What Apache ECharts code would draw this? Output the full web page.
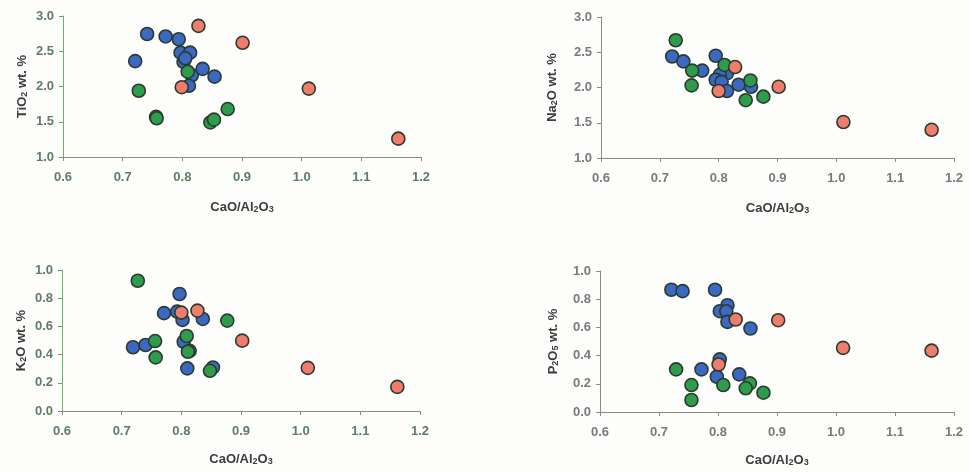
<!DOCTYPE html>
<html>
<head>
<meta charset="utf-8">
<script src="https://cdn.jsdelivr.net/npm/echarts@6/dist/echarts.min.js"></script>
<style>
  html, body { margin: 0; padding: 0; background: #fdfdfc; }
  #chart { width: 969px; height: 472px; }
</style>
</head>
<body>
<div id="chart"></div>
<script>
// x = CaO/Al2O3, y = oxide wt. %
const tio2Blue = [[0.741, 2.745], [0.772, 2.71], [0.794, 2.67], [0.721, 2.36], [0.797, 2.48], [0.813, 2.48],
  [0.802, 2.35], [0.805, 2.40], [0.816, 2.16], [0.834, 2.25], [0.854, 2.14], [0.811, 2.01]];
const tio2Green = [[0.727, 1.94], [0.756, 1.57], [0.757, 1.55], [0.809, 2.21], [0.847, 1.49], [0.853, 1.53], [0.876, 1.68]];
const tio2Red = [[0.827, 2.86], [0.901, 2.62], [0.799, 1.99], [1.012, 1.97], [1.162, 1.26]];

const na2oBlue = [[0.721, 2.44], [0.740, 2.37], [0.772, 2.24], [0.795, 2.45], [0.814, 2.20], [0.802, 2.18],
  [0.795, 2.11], [0.805, 2.08], [0.814, 1.95], [0.834, 2.04], [0.855, 2.01]];
const na2oGreen = [[0.727, 2.67], [0.755, 2.24], [0.754, 2.03], [0.810, 2.32], [0.854, 2.10], [0.846, 1.82], [0.876, 1.87]];
const na2oRed = [[0.828, 2.29], [0.800, 1.95], [0.902, 2.01], [1.012, 1.51], [1.162, 1.40]];

const k2oBlue = [[0.797, 0.83], [0.771, 0.694], [0.793, 0.705], [0.802, 0.646], [0.836, 0.653], [0.719, 0.452],
  [0.740, 0.468], [0.804, 0.491], [0.814, 0.427], [0.810, 0.302], [0.853, 0.309]];
const k2oGreen = [[0.727, 0.924], [0.877, 0.641], [0.756, 0.496], [0.757, 0.380], [0.809, 0.532], [0.848, 0.285], [0.811, 0.42]];
const k2oRed = [[0.800, 0.698], [0.827, 0.712], [0.902, 0.499], [1.012, 0.306], [1.162, 0.171]];

const p2o5Blue = [[0.721, 0.867], [0.740, 0.857], [0.795, 0.867], [0.816, 0.757], [0.803, 0.715], [0.814, 0.715],
  [0.816, 0.639], [0.855, 0.592], [0.803, 0.373], [0.772, 0.302], [0.798, 0.250], [0.836, 0.267]];
const p2o5Green = [[0.729, 0.302], [0.755, 0.191], [0.809, 0.191], [0.854, 0.203], [0.847, 0.168], [0.877, 0.137], [0.755, 0.085]];
const p2o5Red = [[0.830, 0.656], [0.902, 0.651], [0.801, 0.337], [1.012, 0.455], [1.162, 0.435]];

const xTicks = [0.6, 0.7, 0.8, 0.9, 1.0, 1.1, 1.2];

const blue = '#3b69c2', green = '#2e9c4c', red = '#f07c6c';

const panels = [
  {left: 63, top: 16, width: 358, height: 141, ymin: 1, ymax: 3, step: 0.5, name: 'TiO', sub: '2', rest: ' wt. %',
    yGap: 34, xGap: 43, side: 'L', data: [tio2Blue, tio2Green, tio2Red]},
  {left: 601, top: 17, width: 353, height: 141, ymin: 1, ymax: 3, step: 0.5, name: 'Na', sub: '2', rest: 'O wt. %',
    yGap: 42, xGap: 43, side: 'R', data: [na2oBlue, na2oGreen, na2oRed]},
  {left: 62, top: 270, width: 358, height: 141, ymin: 0, ymax: 1, step: 0.2, name: 'K', sub: '2', rest: 'O wt. %',
    yGap: 34, xGap: 41, side: 'L', data: [k2oBlue, k2oGreen, k2oRed]},
  {left: 600, top: 271, width: 354, height: 141, ymin: 0, ymax: 1, step: 0.2, name: 'P', sub: '2', rest: 'O', sub2: '5',
    yGap: 40, xGap: 41, side: 'R', data: [p2o5Blue, p2o5Green, p2o5Red]}
];

const titleRich = {
  t: {fontSize: 13, fontWeight: 'bold', color: '#3c3c3c', fontFamily: 'Liberation Sans'},
  s: {fontSize: 9, fontWeight: 'bold', color: '#3c3c3c', fontFamily: 'Liberation Sans', padding: [5, 0, 0, 0]}
};

const grid = [], xAxis = [], yAxis = [], series = [];
panels.forEach(function (p, i) {
  const labelColor = p.side === 'L' ? '#5f7d62' : '#7a7a7a';
  const yLineColor = p.side === 'L' ? '#62b562' : '#8a8a8a';
  grid.push({left: p.left, top: p.top, width: p.width, height: p.height});
  xAxis.push({
    type: 'value', gridIndex: i, min: 0.6, max: 1.2, interval: 0.1,
    name: '{t|CaO/Al}{s|2}{t|O}{s|3}', nameLocation: 'middle', nameGap: p.xGap,
    nameTextStyle: {rich: titleRich},
    axisLine: {show: true, lineStyle: {color: '#8a8a8a', width: 1}},
    axisTick: {show: true, inside: false, length: 4, lineStyle: {color: '#8a8a8a'}},
    splitLine: {show: false},
    axisLabel: {
      margin: 14, color: labelColor, fontSize: 13, fontWeight: 'bold', fontFamily: 'Liberation Sans',
      formatter: function (v) { return xTicks.indexOf(Math.round(v * 10) / 10) >= 0 ? v.toFixed(1) : ''; }
    }
  });
  let yName = '{t|' + p.name + '}{s|' + p.sub + '}{t|' + p.rest + '}';
  if (p.sub2) yName = '{t|' + p.name + '}{s|' + p.sub + '}{t|O}{s|' + p.sub2 + '}{t| wt. %}';
  yAxis.push({
    type: 'value', gridIndex: i, min: p.ymin, max: p.ymax, interval: p.step,
    name: yName, nameLocation: 'middle', nameGap: p.yGap, nameRotate: 90,
    nameTextStyle: {rich: titleRich},
    axisLine: {show: true, lineStyle: {color: yLineColor, width: 1}},
    axisTick: {show: true, inside: false, length: 4, lineStyle: {color: '#8a8a8a'}},
    splitLine: {show: false},
    axisLabel: {
      margin: 9, color: labelColor, fontSize: 13, fontWeight: 'bold', fontFamily: 'Liberation Sans',
      formatter: function (v) { return v.toFixed(1); }
    }
  });
  [blue, green, red].forEach(function (c, k) {
    series.push({
      type: 'scatter', xAxisIndex: i, yAxisIndex: i, data: p.data[k],
      symbol: 'circle', symbolSize: 13,
      itemStyle: {color: c, borderColor: '#2b3a2e', borderWidth: 1.6, opacity: 1}
    });
  });
});

const chart = echarts.init(document.getElementById('chart'));
chart.setOption({
  animation: false,
  backgroundColor: '#fdfdfc',
  grid: grid,
  xAxis: xAxis,
  yAxis: yAxis,
  series: series
});
</script>
</body>
</html>
